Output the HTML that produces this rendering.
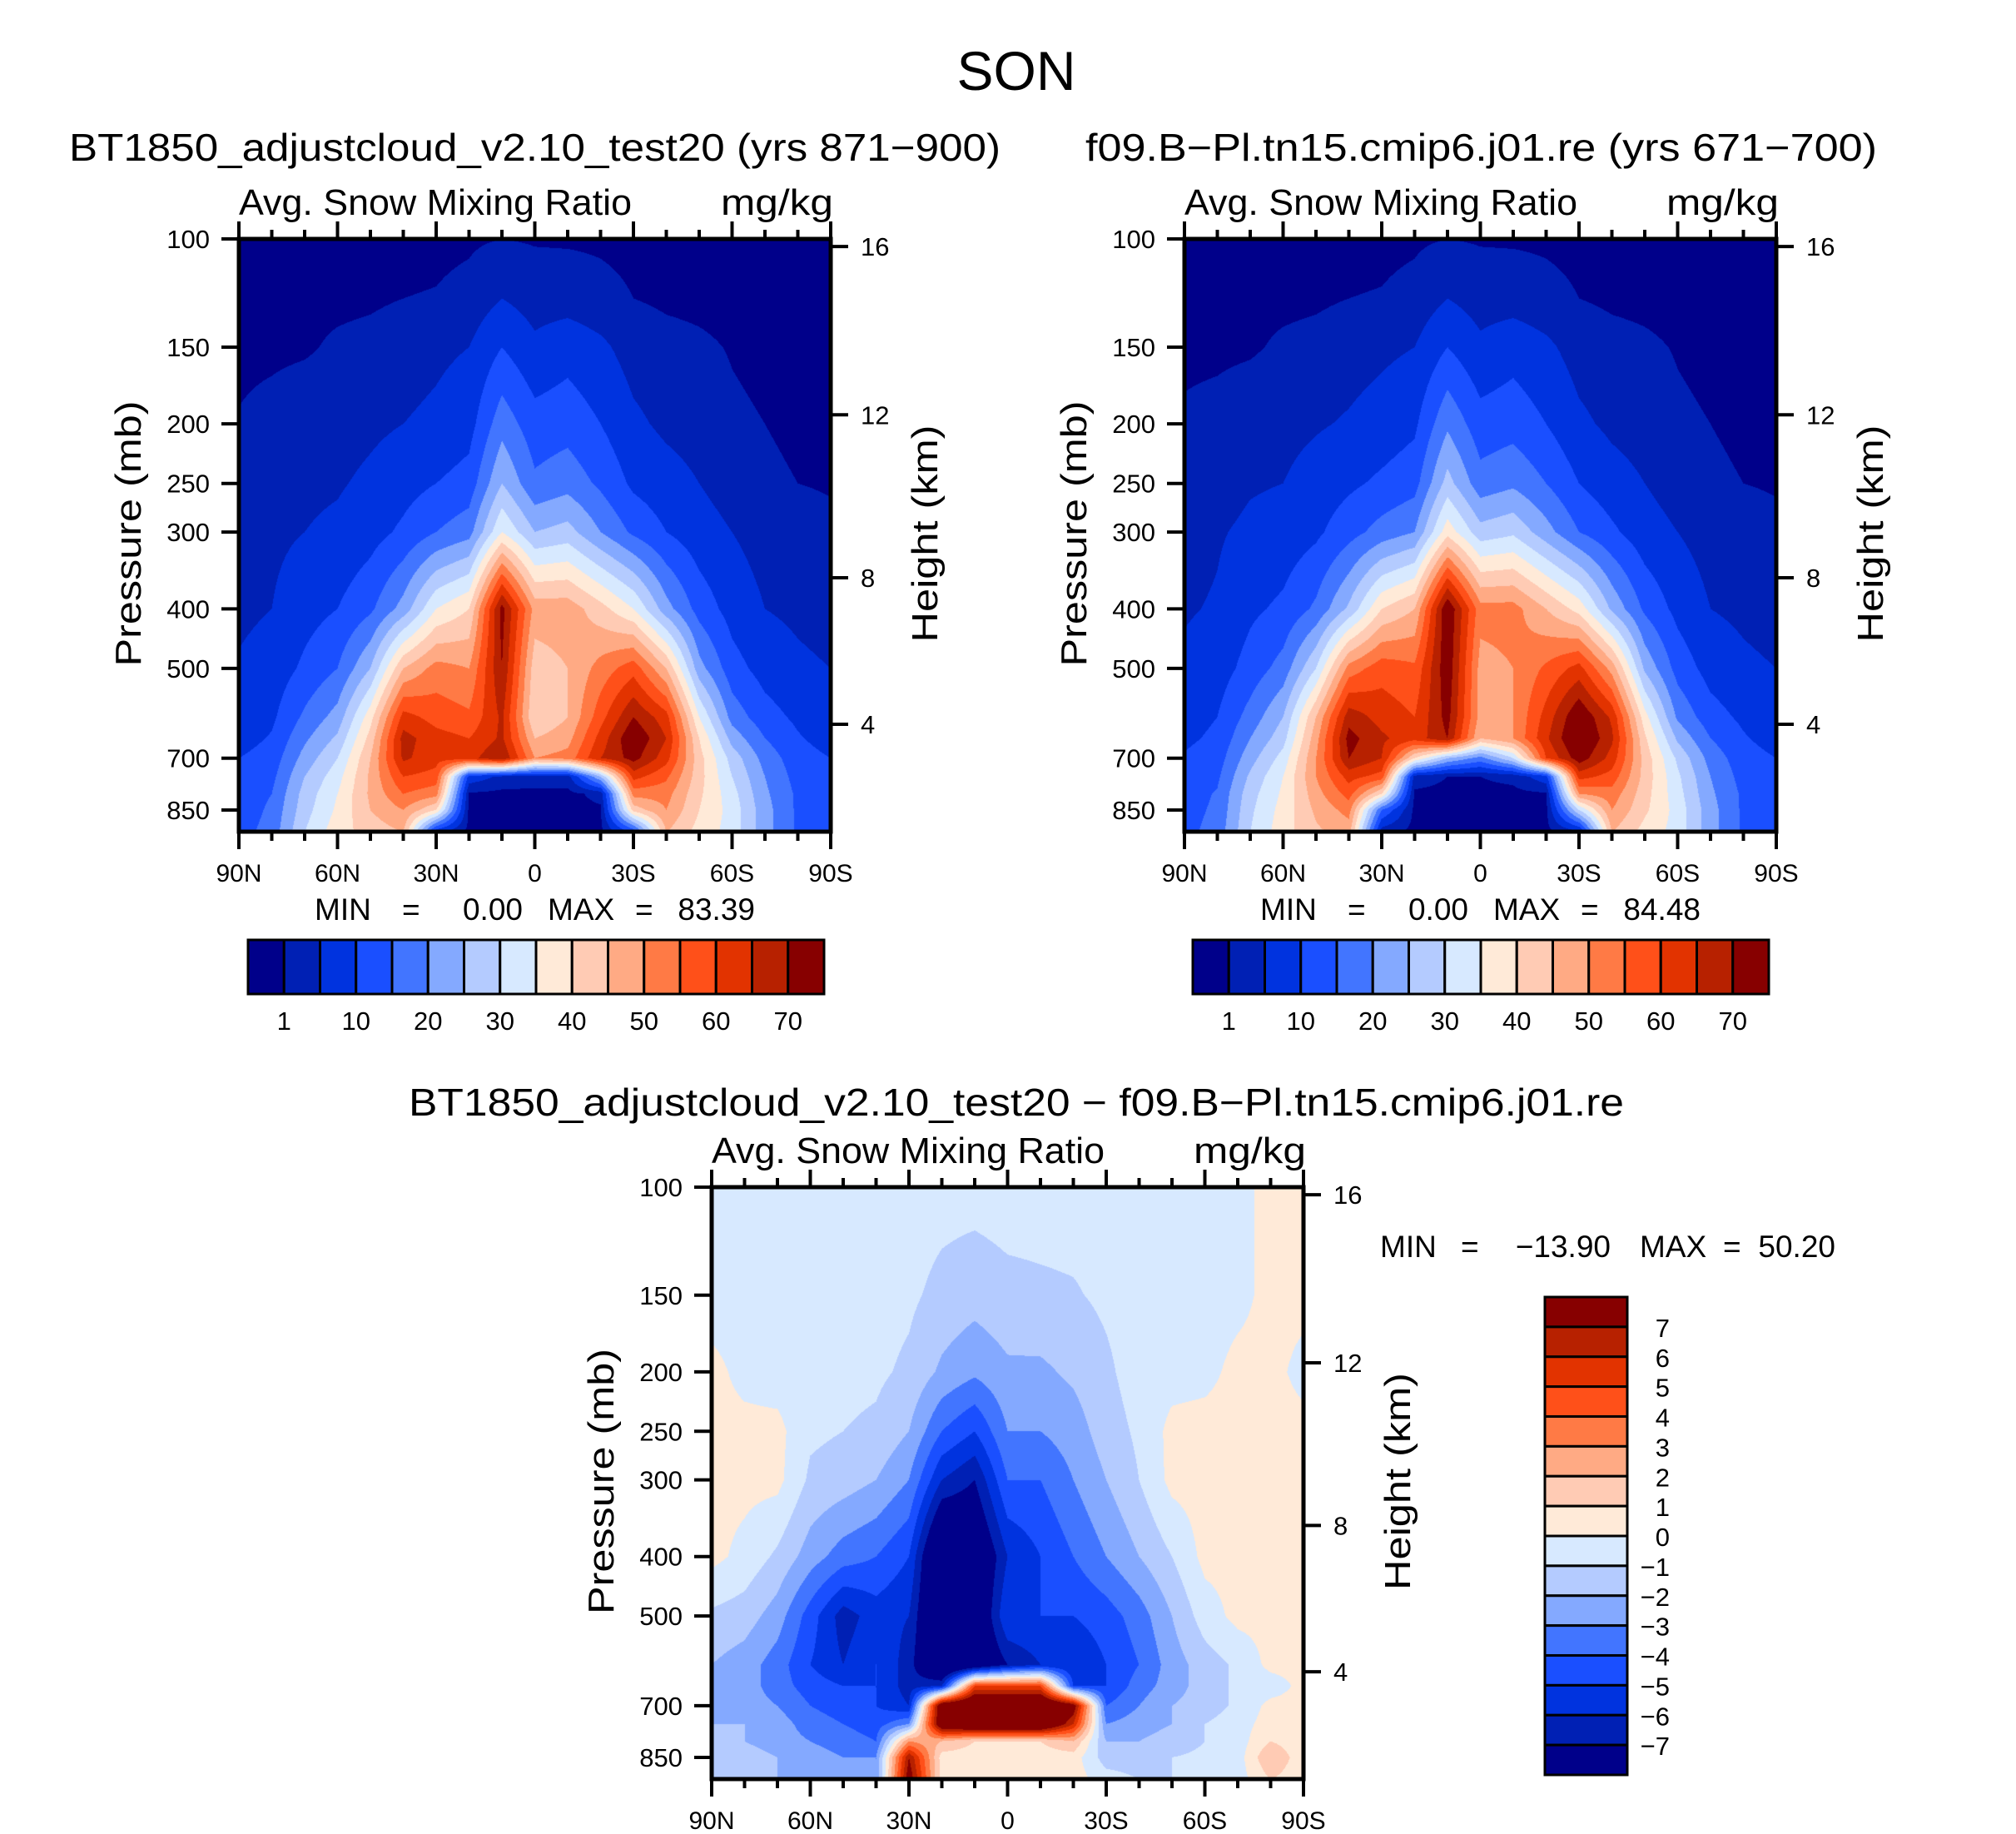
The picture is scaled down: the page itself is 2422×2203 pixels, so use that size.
<!DOCTYPE html>
<html><head><meta charset="utf-8">
<style>
html,body{margin:0;padding:0;background:#fff;}
#wrap{position:relative;width:2422px;height:2203px;overflow:hidden;background:#fff;}
canvas{position:absolute;}
svg{position:absolute;left:0;top:0;}
text{font-family:"Liberation Sans",sans-serif;fill:#000;}
</style></head>
<body>
<div id="wrap">
<canvas id="c1" width="711" height="712" style="left:287px;top:287px"></canvas>
<canvas id="c2" width="711" height="712" style="left:1423px;top:287px"></canvas>
<canvas id="c3" width="711" height="711" style="left:855px;top:1426px"></canvas>
<svg id="svg" width="2422" height="2203"></svg>
</div>
<script>
// ---------------- DATA ----------------
const lats = [90,80,70,60,50,40,30,20,10,0,-10,-20,-30,-40,-50,-60,-70,-80,-90];
const levelsAbs = [100,125,150,200,250,300,400,500,600,650,700,750,800,850,925];
const levelsDiff = [100,150,200,250,300,400,500,600,650,700,750,800,850,925];
const contoursAbs = [1,5,10,15,20,25,30,35,40,45,50,55,60,65,70];
const contoursDiff = [-7,-6,-5,-4,-3,-2,-1,0,1,2,3,4,5,6,7];
const cbLabelsAbs = ["1","10","20","30","40","50","60","70"];
const cbLabelsDiff = ["7","6","5","4","3","2","1","0","\u22121","\u22122","\u22123","\u22124","\u22125","\u22126","\u22127"];
const palette = ['#00008a','#0020b4','#0033df','#1a4fff','#4275ff','#84a9ff','#b4cbff','#d7e9ff','#ffead8','#ffcbb4','#ffaa84','#ff7a45','#ff5019','#e23300','#b72100','#870000'];
const pTicks = [100,150,200,250,300,400,500,700,850];
const hTicks = [4,8,12,16];
const latTickLabels = ["90N","60N","30N","0","30S","60S","90S"];

const test20 = [
[0,0.1,0.3,1.2,2,3,4,5.5,7,8,10,11,12,12,13],
[0,0.1,0.4,2,3,4,5,7,9,10.5,12,13.5,15,16,17],
[0,0.2,0.6,3,4,5,8,11,16,19,22,25,27,28,30],
[0,0.3,1.5,3,4.5,6,10,15,22,26,30,33,35,36,38],
[0,0.5,2,4,6,8,14,25,38,42,45,46,46,45,42],
[0,1,3,5,8,11,22,45,62,67,66,60,55,50,45],
[0.2,1.2,4,6,10,15,35,52,58,62,62,58,52,40,5],
[0.5,2,5,8,12,18,40,50,56,60,63,8,0.5,0,0],
[1,5,10,18,25,35,72,70,66,66,70,4,0,0,0],
[0.7,3,6,12,16,25,48,42,40,45,50,3,0,0,0],
[0.6,3,8,13,18,27,48,45,45,48,52,3,0,0,0],
[0.5,2,6,10,14,20,42,52,58,62,65,25,2,0.5,0],
[0.2,1,3,6,9,14,35,58,70,75,72,62,52,42,10],
[0,0.5,2,4,7,10,22,45,62,65,62,56,52,50,45],
[0,0.3,1.5,3,5,7,13,22,35,40,42,42,41,40,38],
[0,0.1,0.8,1.5,3,5,8,12,18,23,28,30,32,33,33],
[0,0,0.3,1,1.5,3,5,8,12,15,18,20,21,22,22],
[0,0,0.1,0.5,1,2,4,6,9,10.5,12,13,14,14,14],
[0,0,0,0.2,0.8,1.5,3,5,7,8,10,11,11,11,11]
];
const control = [
[0,0.1,0.3,1.5,2.5,3,4.5,6,8,9,10.5,11.5,12.5,13,13.5],
[0,0.1,0.4,2,3,4.5,5.5,7.5,10,11,12.5,14,15.5,16,17],
[0,0.2,0.6,3,4.5,6,9,12,17,20,23,26,28,29,30],
[0,0.3,1.5,3.5,5,7,11,17,25,28,32,35,36,37,38],
[0,0.5,2,4.5,7,9,16,30,45,48,50,50,48,46,44],
[0,1,3,5.5,9,13,26,52,68,72,70,62,57,52,47],
[0.2,1.2,4,7,11,17,40,58,63,66,65,58,40,15,2],
[0.5,2,5,9,13,20,45,56,60,62,40,3,0.3,0,0],
[1,5,10,19,27,38,75,74,72,70,25,1,0,0,0],
[0.7,3,6,12,17,27,52,48,48,45,18,1,0,0,0],
[0.6,3,8,13,19,29,52,50,50,50,30,2,0,0,0],
[0.5,2,6,10,15,22,45,56,62,64,60,8,0.5,0,0],
[0.2,1,3,6,10,15,38,62,75,77,73,62,50,30,3],
[0,0.5,2,4,7,11,24,48,64,66,63,58,53,50,45],
[0,0.3,1.5,3,5,7,14,24,37,41,43,43,42,41,38],
[0,0.1,0.8,1.5,3,5,8.5,13,19,24,29,31,32,33,33],
[0,0,0.3,1,1.5,3,5,8,12,15,18,20,21,22,22],
[0,0,0.1,0.5,1,2,4,6,9,10.5,12,13,14,14,14],
[0,0,0,0.2,0.8,1.5,3,5,7,8,10,11,11,11,11]
];
const diff = [
[-0.5,-0.5,0.3,0.3,0.3,0.3,-1.2,-2,-2.5,-2,-2,-1.5,-1,-1],
[-0.5,-0.5,-0.3,0.3,0.3,-0.3,-1.5,-2.5,-2.5,-2.5,-2,-2,-1.5,-1.5],
[-0.5,-0.5,-0.5,0.3,0.3,-1.2,-2.5,-3.5,-3.5,-3,-2.5,-2.5,-2,-2],
[-0.5,-0.5,-0.6,-0.8,-1.2,-2.5,-4.5,-5,-4.5,-4,-3.5,-3,-2.5,-2],
[-0.5,-0.5,-0.7,-1,-1.5,-3.5,-6.5,-6,-5,-4.5,-4,-3.5,-3,-2.5],
[-0.5,-0.6,-0.8,-1.2,-2,-4,-5.5,-5,-5,-5,-4.5,-4,-3,-3],
[-0.5,-0.8,-1.2,-2,-3,-5,-6,-6.5,-6.5,-6,-3,3,7,8],
[-0.6,-1.3,-2.2,-4,-6,-10,-10,-10,-6,9,9,2,0.5,0.5],
[-0.6,-1.6,-2.8,-5,-7,-9,-9,-9,5,10,10,1,0.5,0.5],
[-0.5,-1.3,-2.2,-3,-4,-6,-5,-7,5,10,10,1,0.5,0.5],
[-0.5,-1.2,-2.2,-3,-4,-5,-5,-6,5,10,10,1,0.5,0.5],
[-0.5,-1.1,-1.8,-2.5,-3,-4,-5,-6,-5,8,6,2,0.5,0.5],
[-0.5,-0.8,-1.2,-1.5,-2,-3,-4.5,-5,-5,-4,-3,-2,-1.5,-0.5],
[-0.5,-0.5,-0.5,-0.8,-1,-2,-3.5,-4,-3.5,-3,-2.5,-2,-1.5,-1],
[-0.5,-0.5,-0.4,0.3,0.3,-1,-2,-2.5,-2.5,-2,-2,-1.5,-1,-1],
[-0.5,-0.5,-0.3,0.4,0.4,0.3,-0.5,-1.5,-1.5,-1.5,-1,-1,-0.8,-0.5],
[-0.3,-0.3,0.3,0.4,0.4,0.3,0.3,-0.8,-0.8,-0.8,-0.5,-0.5,-0.5,-0.5],
[0.3,0.3,0.3,0.4,0.4,0.3,0.3,0.3,-0.5,0.3,0.5,1,2,1],
[0.3,0.3,-0.3,0.3,0.3,0.3,0.3,0.3,0.3,0.3,0.3,0.3,0.3,0.3]
];

// ---------------- AXES ----------------
const P_BOT = 922;
function yOfP(p, top, h){ return top + h*Math.log10(p/100)/Math.log10(P_BOT/100); }
function xOfLat(lat, left, w){ return left + (90-lat)/180*w; }
function pOfH(km){ const m=km*1000; if(m<11000) return 1013.25*Math.pow(1-2.25577e-5*m,5.25588); return 226.32*Math.exp(-(m-11000)/6341.6); }
function hexRGB(h){ return [parseInt(h.substr(1,2),16),parseInt(h.substr(3,2),16),parseInt(h.substr(5,2),16)]; }
const palRGB = palette.map(hexRGB);

function drawField(id, cols, levels, contours){
  const cv=document.getElementById(id), ctx=cv.getContext('2d');
  const W=cv.width,H=cv.height, img=ctx.createImageData(W,H);
  const lp=levels.map(p=>Math.log10(p));
  for(let j=0;j<H;j++){
    const p=100*Math.pow(P_BOT/100,(j+0.5)/H), l=Math.log10(p);
    let k=0; while(k<lp.length-2 && l>lp[k+1]) k++;
    let fy=(l-lp[k])/(lp[k+1]-lp[k]); fy=Math.max(0,Math.min(1,fy));
    for(let i=0;i<W;i++){
      const lat=90-(i+0.5)/W*180;
      let fi=(90-lat)/10, c=Math.min(Math.floor(fi),lats.length-2), fx=fi-c;
      const v=(1-fx)*((1-fy)*cols[c][k]+fy*cols[c][k+1])+fx*((1-fy)*cols[c+1][k]+fy*cols[c+1][k+1]);
      let b=0; while(b<contours.length && v>=contours[b]) b++;
      const rgb=palRGB[b], o=(j*W+i)*4;
      img.data[o]=rgb[0];img.data[o+1]=rgb[1];img.data[o+2]=rgb[2];img.data[o+3]=255;
    }
  }
  ctx.putImageData(img,0,0);
}
drawField('c1',test20,levelsAbs,contoursAbs);
drawField('c2',control,levelsAbs,contoursAbs);
drawField('c3',diff,levelsDiff,contoursDiff);

const svg=document.getElementById('svg'), NS='http://www.w3.org/2000/svg';
function el(tag,attrs,parent){ const e=document.createElementNS(NS,tag); for(const k in attrs) e.setAttribute(k,attrs[k]); (parent||svg).appendChild(e); return e; }
function txt(s,attrs,parent){ const e=el('text',attrs,parent); e.textContent=s; return e; }

function axes(name,left,top,w,h){
  const g=el('g',{});
  
  
  const fr=el('rect',{x:left,y:top,width:w,height:h,fill:'none',stroke:'#000','stroke-width':5},g);
  
  
  for(let lat=90;lat>=-90;lat-=10){
    const x=xOfLat(lat,left,w), major=(lat%30===0), L=major?21:11;
    const t1=el('line',{x1:x,y1:top,x2:x,y2:top-L,stroke:'#000','stroke-width':4},g);
    
    
    const t2=el('line',{x1:x,y1:top+h,x2:x,y2:top+h+L,stroke:'#000','stroke-width':4},g);
    
    
  }
  latTickLabels.forEach((s,i)=>{
    const t=txt(s,{x:xOfLat(90-30*i,left,w),y:top+h+60,'font-size':30,'text-anchor':'middle'},g);
    
    
  });
  pTicks.forEach(p=>{
    const y=yOfP(p,top,h);
    const tl=el('line',{x1:left,y1:y,x2:left-21,y2:y,stroke:'#000','stroke-width':4},g);
    
    
    const t=txt(String(p),{x:left-35,y:y+11,'font-size':31,'text-anchor':'end'},g);
    
    
  });
  hTicks.forEach(km=>{
    const y=yOfP(pOfH(km),top,h);
    const tl=el('line',{x1:left+w,y1:y,x2:left+w+21,y2:y,stroke:'#000','stroke-width':4},g);
    
    
    const t=txt(String(km),{x:left+w+36,y:y+11,'font-size':31},g);
    
    
  });
  const cy=top+h*0.5;
  const pl=txt('Pressure (mb)',{x:0,y:0,'font-size':44,'text-anchor':'middle',textLength:319,lengthAdjust:'spacingAndGlyphs',transform:`translate(${left-118},${cy-2}) rotate(-90)`},g);
  
  
  const hl=txt('Height (km)',{x:0,y:0,'font-size':44,'text-anchor':'middle',textLength:261,lengthAdjust:'spacingAndGlyphs',transform:`translate(${left+w+128},${cy-2}) rotate(-90)`},g);
  
  
  const a=txt('Avg. Snow Mixing Ratio',{x:left,y:top-29,'font-size':44,textLength:472,lengthAdjust:'spacingAndGlyphs'},g);
  
  
  const u=txt('mg/kg',{x:left+w-132,y:top-29,'font-size':44,textLength:135,lengthAdjust:'spacingAndGlyphs'},g);
  
  
}
axes('plot-test20',287,287,711,712);
axes('plot-control',1423,287,711,712);
axes('plot-difference',855,1426,711,711);

function hbar(name,left,top,w,h){
  const g=el('g',{});
  
  
  const bw=w/palette.length;
  palette.forEach((c,i)=>{
    const r=el('rect',{x:left+i*bw,y:top,width:bw,height:h,fill:c,stroke:'#000','stroke-width':3},g);
    
    
  });
  cbLabelsAbs.forEach((s,i)=>{
    const t=txt(s,{x:left+(2*i+1)*bw,y:top+h+43,'font-size':31,'text-anchor':'middle'},g);
    
    
  });
}
hbar('colorbar-test20',298,1129,692,65);
hbar('colorbar-control',1433,1129,692,65);

(function(){
  const left=1856,top=1558,w=99,h=574;
  const g=el('g',{});
  
  
  const bh=h/palette.length;
  palette.slice().reverse().forEach((c,i)=>{
    const r=el('rect',{x:left,y:top+i*bh,width:w,height:bh,fill:c,stroke:'#000','stroke-width':3},g);
    
    
  });
  cbLabelsDiff.forEach((s,i)=>{
    const t=txt(s,{x:2006,y:top+(i+1)*bh+12,'font-size':31,'text-anchor':'end'},g);
    
    
  });
})();

function label(s,name,attrs){ const t=txt(s,attrs);   return t; }
label('SON','figure-title',{x:1221,y:108,'font-size':66,'text-anchor':'middle'});
label('BT1850_adjustcloud_v2.10_test20 (yrs 871\u2212900)','title-test20',{x:83,y:193,'font-size':46,textLength:1119,lengthAdjust:'spacingAndGlyphs'});
label('f09.B\u2212Pl.tn15.cmip6.j01.re (yrs 671\u2212700)','title-control',{x:1304,y:193,'font-size':46,textLength:951,lengthAdjust:'spacingAndGlyphs'});
label('BT1850_adjustcloud_v2.10_test20 \u2212 f09.B\u2212Pl.tn15.cmip6.j01.re','title-difference',{x:491,y:1340,'font-size':46,textLength:1460,lengthAdjust:'spacingAndGlyphs'});

function minmax(name,x0,y,minStr,maxStr,scale){
  // positions relative to reference layout (529px wide block)
  label('MIN',name+'-min-label',{x:x0,y:y,'font-size':37});
  label('=',name+'-min-eq',{x:x0+105*scale,y:y,'font-size':37});
  label(minStr,name+'-min-value',{x:x0+(scale>1?300:250)*scale,y:y,'font-size':37,'text-anchor':'end'});
  label('MAX',name+'-max-label',{x:x0+(scale>1?295:280)*scale,y:y,'font-size':37});
  label('=',name+'-max-eq',{x:x0+(scale>1?400:385)*scale,y:y,'font-size':37});
  label(maxStr,name+'-max-value',{x:x0+529*scale,y:y,'font-size':37,'text-anchor':'end'});
}
minmax('minmax-test20',378,1105,'0.00','83.39',1);
minmax('minmax-control',1514,1105,'0.00','84.48',1);
// difference min/max
label('MIN','minmax-difference-min-label',{x:1658,y:1510,'font-size':37});
label('=','minmax-difference-min-eq',{x:1755,y:1510,'font-size':37});
label('\u221213.90','minmax-difference-min-value',{x:1935,y:1510,'font-size':37,'text-anchor':'end'});
label('MAX','minmax-difference-max-label',{x:1970,y:1510,'font-size':37});
label('=','minmax-difference-max-eq',{x:2070,y:1510,'font-size':37});
label('50.20','minmax-difference-max-value',{x:2205,y:1510,'font-size':37,'text-anchor':'end'});
</script>
</body></html>
